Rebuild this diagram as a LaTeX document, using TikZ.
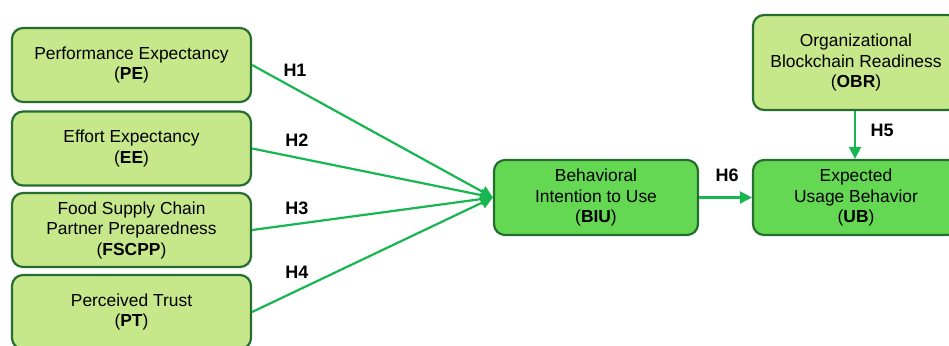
\documentclass[tikz,border=0pt]{standalone}
\usepackage{fontspec}
\setmainfont{Liberation Sans}
\usepackage{xcolor}
\usetikzlibrary{arrows.meta}

\definecolor{boxline}{RGB}{38,110,48}
\definecolor{lightfill}{RGB}{198,232,138}
\definecolor{darkfill}{RGB}{100,216,82}
\definecolor{hypline}{RGB}{24,182,80}

\begin{document}
\begin{tikzpicture}[x=1pt,y=-1pt,
    construct/.style={draw=boxline,line width=2.2pt,rounded corners=11pt,
      fill=lightfill,align=center,inner sep=0pt,
      font=\fontsize{17.4}{20.5}\selectfont},
    outcome/.style={construct,fill=darkfill},
    hyp/.style={draw=hypline,line width=2.2pt,-{Triangle[length=12pt,width=12pt]}},
    hlabel/.style={font=\fontsize{18}{20}\selectfont\bfseries}]
    \useasboundingbox (0,0) rectangle (949,345);
    % independent constructs
    \node [construct,minimum width=239pt,minimum height=74pt] (pe) at (131.5,65) {Performance Expectancy\\(\textbf{PE})};
    \node [construct,minimum width=239pt,minimum height=74pt] (ee) at (131.5,148.5) {Effort Expectancy\\(\textbf{EE})};
    \node [construct,minimum width=239pt,minimum height=74pt] (fscpp) at (131.5,230) {Food Supply Chain\\Partner Preparedness\\(\textbf{FSCPP})};
    \node [construct,minimum width=239pt,minimum height=74pt] (pt) at (131.5,312) {Perceived Trust\\(\textbf{PT})};
    % intention and usage
    \node [outcome,minimum width=204pt,minimum height=75pt] (biu) at (596,197.5) {Behavioral\\Intention to Use\\(\textbf{BIU})};
    \node [construct,minimum width=206pt,minimum height=95pt] (obr) at (856,62.5) {Organizational\\Blockchain Readiness\\(\textbf{OBR})};
    \node [outcome,minimum width=206pt,minimum height=75pt] (ub) at (856,197.5) {Expected\\Usage Behavior\\(\textbf{UB})};
    % hypotheses
    \draw [hyp] (pe.east) -- (biu.west);
    \draw [hyp] (ee.east) -- (biu.west);
    \draw [hyp] (fscpp.east) -- (biu.west);
    \draw [hyp] (pt.east) -- (biu.west);
    \draw [hyp] (biu.east) -- (ub.west);
    \draw [hyp] (obr.south -| 855,0) -- (ub.north -| 855,0);
    \node [hlabel] (h1) at (295,70) {H1};
    \node [hlabel] (h2) at (297,140) {H2};
    \node [hlabel] (h3) at (297,208) {H3};
    \node [hlabel] (h4) at (297,272) {H4};
    \node [hlabel] (h5) at (882,130) {H5};
    \node [hlabel] (h6) at (727,175) {H6};
\end{tikzpicture}
\end{document}
